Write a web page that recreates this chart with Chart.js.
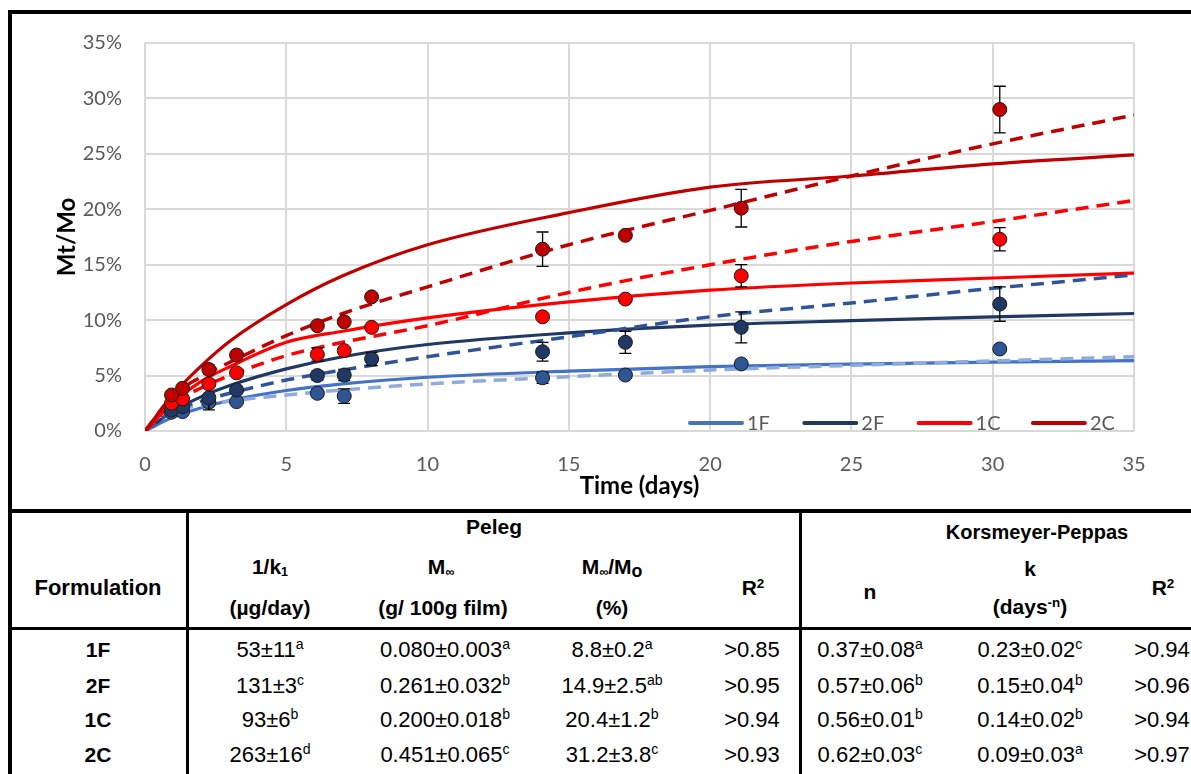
<!DOCTYPE html>
<html>
<head>
<meta charset="utf-8">
<script src="https://cdn.jsdelivr.net/npm/chart.js@4.4.1/dist/chart.umd.min.js"></script>
<style>
  body { margin: 0; background: #fff; width: 1191px; height: 774px; overflow: hidden; position: relative;
         font-family: "Liberation Sans", Arial, sans-serif; }
  #chartBox { position: absolute; left: 0; top: 0; width: 1191px; height: 510px; }
  .ln { position: absolute; background: #000; }
  .t { position: absolute; white-space: nowrap; font-size: 22px; line-height: 26px; color: #000;
       transform: translate(-50%, -50%); }
  .b { font-weight: bold; font-size: 21px; }
  sup { font-size: 0.64em; line-height: 0; vertical-align: 0.55em; }
  sub { font-size: 0.6em; line-height: 0; vertical-align: -0.15em; }
</style>
</head>
<body>
<div id="chartBox"><canvas id="release" width="1191" height="510"></canvas></div>
<div id="table"></div>

<script>
// Sampling times (days) and measured release Mt/Mo (%)
const times = [0.94, 1.33, 2.26, 3.24, 6.1, 7.05, 8.02, 14.07, 17.0, 21.1, 30.25];
const obs1F = [1.7, 1.75, 2.6, 2.65, 3.4, 3.15, null, 4.8, 5.05, 6.05, 7.4];
const obs2F = [1.9, 2.2, 3.0, 3.7, 5.0, 5.05, 6.5, 7.15, 8.0, 9.35, 11.45];
const obs1C = [2.5, 2.9, 4.25, 5.25, 6.9, 7.25, 9.35, 10.3, 11.9, 14.0, 17.3];
const obs2C = [3.25, 3.85, 5.55, 6.85, 9.5, 9.85, 12.1, 16.4, 17.65, 20.1, 29.0];
const err1F = [0, 0, 0, 0, 0.3, 0.65, 0, 0.5, 0, 0, 0];
const err2F = [0, 0, 1.1, 0, 0.4, 0.5, 0.6, 0.85, 1.0, 1.4, 1.55];
const err1C = [0, 0, 0, 0, 0.6, 0, 0, 0, 0, 1.0, 1.05];
const err2C = [0, 0, 0.4, 0, 0, 0, 0, 1.55, 0, 1.7, 2.1];

// Model curves (solid = Peleg, dashed = Korsmeyer-Peppas)
const fitTimes = [0, 1, 2, 3, 5, 7, 10, 15, 20, 25, 30, 35];
const peleg1F = [0, 1.25, 2.1, 2.75, 3.65, 4.25, 4.85, 5.4, 5.8, 6.04, 6.22, 6.34];
const peleg2F = [0, 1.8, 3.1, 4.1, 5.6, 6.7, 7.8, 8.85, 9.55, 9.95, 10.3, 10.6];
const peleg1C = [0, 2.6, 4.5, 5.8, 8.0, 9.0, 10.2, 11.65, 12.7, 13.35, 13.8, 14.25];
const peleg2C = [0, 3.3, 5.9, 8.1, 11.4, 14.0, 16.8, 19.7, 22.0, 23.0, 24.1, 24.9];
const kp1F = [0, 1.8, 2.3, 2.7, 3.25, 3.7, 4.25, 4.9, 5.5, 5.92, 6.32, 6.7];
const kp2F = [0, 1.8, 2.7, 3.4, 4.6, 5.5, 6.7, 8.5, 10.3, 11.55, 12.87, 14.07];
const kp1C = [0, 2.5, 3.9, 5.0, 6.8, 8.0, 9.5, 12.5, 15.0, 17.1, 18.9, 20.8];
const kp2C = [0, 3.2, 4.9, 6.2, 8.6, 10.6, 13.0, 16.8, 19.9, 23.0, 25.9, 28.5];

const seriesNames = ['1F', '2F', '1C', '2C'];
const lineColors = ['#4472C4', '#203864', '#FF0000', '#C00000'];
const dashColors = ['#8FAADC', '#2F5597', '#FF0000', '#C00000'];
const markerColors = ['#2F5597', '#1F3864', '#FF0000', '#C00000'];

// Table values ("^" marks the superscript letters)
const tblFormulation = ['1F', '2F', '1C', '2C'];
const tblInvK1 = ['53±11^a', '131±3^c', '93±6^b', '263±16^d'];
const tblMinf = ['0.080±0.003^a', '0.261±0.032^b', '0.200±0.018^b', '0.451±0.065^c'];
const tblMinfMo = ['8.8±0.2^a', '14.9±2.5^ab', '20.4±1.2^b', '31.2±3.8^c'];
const tblR2Peleg = ['>0.85', '>0.95', '>0.94', '>0.93'];
const tblN = ['0.37±0.08^a', '0.57±0.06^b', '0.56±0.01^b', '0.62±0.03^c'];
const tblK = ['0.23±0.02^c', '0.15±0.04^b', '0.14±0.02^b', '0.09±0.03^a'];
const tblR2KP = ['>0.94', '>0.96', '>0.94', '>0.97'];

const toXY = (xs, ys) => xs.map((x, i) => ({ x: x, y: ys[i] }));

const observed = [obs1F, obs2F, obs1C, obs2C];
const errors = [err1F, err2F, err1C, err2C];
const pelegFits = [peleg1F, peleg2F, peleg1C, peleg2C];
const kpFits = [kp1F, kp2F, kp1C, kp2C];

const datasets = [];
// markers first so they sit on top (Chart.js draws first dataset last)
for (let i = 3; i >= 0; i--) {
    datasets.push({
        type: 'scatter',
        label: seriesNames[i] + ' data',
        data: toXY(times, observed[i]),
        errors: errors[i],
        pointRadius: 7,
        pointBackgroundColor: markerColors[i],
        pointBorderColor: '#1a1a1a',
        pointBorderWidth: 1
    });
}
for (let i = 3; i >= 0; i--) {
    datasets.push({
        type: 'line',
        label: seriesNames[i] + ' KP',
        data: toXY(fitTimes, kpFits[i]),
        borderColor: dashColors[i],
        borderWidth: 3.5,
        borderDash: [13, 8],
        pointRadius: 0,
        cubicInterpolationMode: 'monotone',
        fill: false
    });
}
for (let i = 3; i >= 0; i--) {
    datasets.push({
        type: 'line',
        label: seriesNames[i],
        data: toXY(fitTimes, pelegFits[i]),
        borderColor: lineColors[i],
        borderWidth: 3.2,
        pointRadius: 0,
        cubicInterpolationMode: 'monotone',
        fill: false
    });
}

// Error bars drawn just before each marker dataset
const errorBars = {
    id: 'errorBars',
    beforeDatasetDraw(chart, args) {
        const ds = chart.data.datasets[args.index];
        if (!ds.errors) return;
        const { ctx, scales: { x, y } } = chart;
        ctx.save();
        ctx.strokeStyle = '#000';
        ctx.lineWidth = 1.3;
        ds.data.forEach((p, i) => {
            const e = ds.errors[i];
            if (p.y == null || !e) return;
            const px = x.getPixelForValue(p.x);
            const y1 = y.getPixelForValue(p.y + e);
            const y2 = y.getPixelForValue(p.y - e);
            ctx.beginPath();
            ctx.moveTo(px, y1); ctx.lineTo(px, y2);
            ctx.moveTo(px - 6, y1); ctx.lineTo(px + 6, y1);
            ctx.moveTo(px - 6, y2); ctx.lineTo(px + 6, y2);
            ctx.stroke();
        });
        ctx.restore();
    }
};

// Legend sitting inside the plot, bottom right
const insideLegend = {
    id: 'insideLegend',
    afterDatasetsDraw(chart) {
        const { ctx, chartArea } = chart;
        const y0 = chartArea.bottom - 8;
        let x0 = chartArea.left + 545;
        ctx.save();
        seriesNames.forEach((name, i) => {
            ctx.strokeStyle = lineColors[i];
            ctx.lineWidth = 4;
            ctx.lineCap = 'round';
            ctx.beginPath();
            ctx.moveTo(x0, y0);
            ctx.lineTo(x0 + 52, y0);
            ctx.stroke();
            ctx.fillStyle = '#595959';
            ctx.font = '20px Lato';
            ctx.textBaseline = 'middle';
            ctx.fillText(name, x0 + 57, y0 + 1);
            x0 += 114.3;
        });
        ctx.restore();
    }
};

const tickFont = { family: 'Lato', size: 20 };
const titleFont = { family: 'Lato', size: 24, weight: 'bold' };

new Chart(document.getElementById('release').getContext('2d'), {
    type: 'scatter',
    data: { datasets: datasets },
    options: {
        responsive: false,
        animation: false,
        layout: { padding: { left: 26, right: 57, top: 43, bottom: 9 } },
        plugins: {
            legend: { display: false },
            tooltip: { enabled: false }
        },
        scales: {
            x: {
                type: 'linear',
                min: 0,
                max: 35,
                ticks: { stepSize: 5, color: '#595959', font: tickFont, padding: 22 },
                grid: { color: '#D9D9D9', lineWidth: 2, drawTicks: false },
                border: { display: false },
                title: { display: true, text: 'Time (days)', color: '#000', font: titleFont, padding: { top: 0, bottom: 0 } },
                afterFit: s => { s.height = 70; }
            },
            y: {
                min: 0,
                max: 35,
                ticks: { stepSize: 5, color: '#595959', font: tickFont, padding: 23, callback: v => v + '%' },
                grid: { color: '#D9D9D9', lineWidth: 2, drawTicks: false },
                border: { display: false },
                title: { display: true, text: 'Mt/Mo', color: '#000', font: titleFont, padding: { top: 27, bottom: 0 } },
                afterFit: s => { s.width = 119; }
            }
        }
    },
    plugins: [errorBars, insideLegend]
});

// ---- table below the chart ----
const table = document.getElementById('table');

function fmt(s) {
    const parts = s.split('^');
    return parts[0].replace('>', '&gt;') + (parts[1] ? '<sup>' + parts[1] + '</sup>' : '');
}
function addText(html, x, y, bold, size) {
    const d = document.createElement('div');
    d.className = 't' + (bold ? ' b' : '');
    d.style.left = x + 'px';
    d.style.top = y + 'px';
    if (size) d.style.fontSize = size + 'px';
    d.innerHTML = html;
    table.appendChild(d);
}
function addLine(x, y, w, h) {
    const d = document.createElement('div');
    d.className = 'ln';
    Object.assign(d.style, { left: x + 'px', top: y + 'px', width: w + 'px', height: h + 'px' });
    table.appendChild(d);
}

// frame
addLine(8, 10, 1183, 4);
addLine(8, 10, 4, 764);
addLine(8, 509, 1183, 4);
addLine(8, 627, 1183, 3);
addLine(186, 511, 3, 263);
addLine(799, 511, 3, 263);

// header
addText('Peleg', 494, 527, true);
addText('Korsmeyer-Peppas', 1037, 532, true, 20);
addText('1/k<sub>1</sub>', 270, 567, true);
addText('M<sub>∞</sub>', 441, 567, true);
addText('M<sub>∞</sub>/M<sub style="font-size:0.85em">o</sub>', 612, 567, true);
addText('Formulation', 98, 588, true, 22);
addText('R<sup>2</sup>', 753, 588, true);
addText('R<sup>2</sup>', 1163, 588, true);
addText('n', 870, 592, true);
addText('k', 1030, 569, true);
addText('(days<sup>-n</sup>)', 1030, 607, true);
addText('(µg/day)', 270, 608, true);
addText('(g/ 100g film)', 443, 608, true);
addText('(%)', 612, 608, true);

// body rows
const rowY = [650, 686, 720, 755];
const colX = [270, 445, 612, 752, 870, 1030, 1162];
const cols = [tblInvK1, tblMinf, tblMinfMo, tblR2Peleg, tblN, tblK, tblR2KP];
tblFormulation.forEach((f, r) => {
    addText(f, 98, rowY[r], true);
    cols.forEach((col, c) => addText(fmt(col[r]), colX[c], rowY[r], false));
});
</script>
</body>
</html>
